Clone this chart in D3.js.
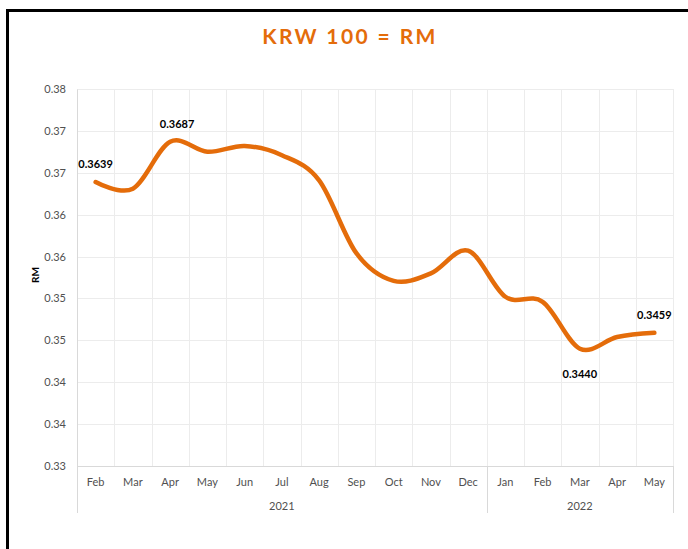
<!DOCTYPE html>
<html>
<head>
<meta charset="utf-8">
<script src="https://cdn.jsdelivr.net/npm/d3@7"></script>
<style>
  body { margin: 0; background: #fff; }
  svg { display: block; font-family: Lato, "Open Sans", sans-serif; }
</style>
</head>
<body>
<svg id="chart"></svg>
<script>
// months shown on the x axis, Feb 2021 .. May 2022
var months = ["Feb","Mar","Apr","May","Jun","Jul","Aug","Sep","Oct","Nov","Dec",
              "Jan","Feb","Mar","Apr","May"]
var years = ["2021","2022"]
var yearOf = [0,0,0,0,0,0,0,0,0,0,0,1,1,1,1,1]

// KRW 100 in RM
var rates = [0.3639,0.3631,0.3687,0.3675,0.3682,0.3671,0.3641,0.3554,
             0.3521,0.3530,0.3557,0.3502,0.3496,0.3440,0.3454,0.3459]

// the points that carry a value label
var labelled = [0, 2, 13, 15]

var yTicks = [0.330,0.335,0.340,0.345,0.350,0.355,0.360,0.365,0.370,0.375]
var yTickLabels = ["0.33","0.34","0.34","0.35","0.35","0.36","0.36","0.37","0.37","0.38"]

var screen = {width:688,height:549}
var margins = {top:89,right:15,left:77,bottom:83}
var orange = "#E46C0A"

// label placement (dx, dy from the point)
var labelPos = [{dx:0,dy:-14},{dx:7,dy:-14},{dx:0,dy:29},{dx:0,dy:-14}]

var width = screen.width - margins.left - margins.right
var height = screen.height - margins.top - margins.bottom

var svg = d3.select("#chart")
    .attr("width",screen.width)
    .attr("height",screen.height)

// outer frame (only top and left edge fit in the window)
svg.append("rect")
   .attr("x",7.5).attr("y",10.5)
   .attr("width",700).attr("height",600)
   .attr("fill","none")
   .attr("stroke","#000")
   .attr("stroke-width",3)

svg.append("text")
   .attr("x",350).attr("y",44)
   .attr("text-anchor","middle")
   .attr("fill",orange)
   .style("font-size","21px")
   .style("font-weight","bold")
   .style("letter-spacing","2.4px")
   .text("KRW 100 = RM")

var g = svg.append("g")
   .attr("transform","translate("+margins.left+","+margins.top+")")

var xScale = d3.scaleBand()
    .domain(d3.range(months.length))
    .range([0,width])
    .padding(0)
var yScale = d3.scaleLinear()
    .domain([0.330,0.375])
    .range([height,0])

// gridlines
g.append("g")
 .selectAll("line")
 .data(yTicks)
 .enter()
 .append("line")
 .attr("x1",0).attr("x2",width)
 .attr("y1",function(d){return Math.round(yScale(d))+0.5})
 .attr("y2",function(d){return Math.round(yScale(d))+0.5})
 .attr("stroke","#ececec")

g.append("g")
 .selectAll("line")
 .data(d3.range(months.length+1))
 .enter()
 .append("line")
 .attr("x1",function(i){return Math.round(i*xScale.bandwidth())+0.5})
 .attr("x2",function(i){return Math.round(i*xScale.bandwidth())+0.5})
 .attr("y1",0).attr("y2",height)
 .attr("stroke","#ececec")

// y axis
var yAxis = d3.axisLeft(yScale)
    .tickValues(yTicks)
    .tickSize(0)
    .tickPadding(11)
    .tickFormat(function(d,i){return yTickLabels[i]})
var ya = g.append("g").call(yAxis)
ya.select(".domain").attr("stroke","#d9d9d9")
ya.selectAll("text")
  .style("font-size","11px")
  .style("font-family","Lato, sans-serif")
  .attr("fill","#505050")

// x axis: months, then years
var xAxis = d3.axisBottom(xScale)
    .tickSize(0)
    .tickPadding(12)
    .tickFormat(function(i){return months[i]})
var xa = g.append("g")
  .attr("transform","translate(0,"+height+")")
  .call(xAxis)
xa.select(".domain").attr("stroke","#d9d9d9")
xa.selectAll("text")
  .style("font-size","11px")
  .style("font-family","Lato, sans-serif")
  .attr("fill","#505050")

var yearSpans = years.map(function(y,k){
    var idx = d3.range(months.length).filter(function(i){return yearOf[i]==k})
    return {name:y, x0:xScale(idx[0]), x1:xScale(idx[idx.length-1])+xScale.bandwidth()}
})

g.append("g")
 .selectAll("line")
 .data([0].concat(yearSpans.map(function(s){return s.x1})))
 .enter()
 .append("line")
 .attr("x1",function(x){return Math.round(x)+0.5})
 .attr("x2",function(x){return Math.round(x)+0.5})
 .attr("y1",height).attr("y2",height+47)
 .attr("stroke","#d9d9d9")

g.append("g")
 .selectAll("text")
 .data(yearSpans)
 .enter()
 .append("text")
 .attr("x",function(s){return (s.x0+s.x1)/2})
 .attr("y",height+44)
 .attr("text-anchor","middle")
 .attr("fill","#505050")
 .style("font-size","11px")
 .text(function(s){return s.name})

// axis title
svg.append("text")
   .attr("transform","translate(39,275) rotate(-90)")
   .attr("text-anchor","middle")
   .attr("fill","#000")
   .style("font-size","10px")
   .style("font-weight","bold")
   .text("RM")

// the rate line
var lineGenerator = d3.line()
    .x(function(d,i){return xScale(i)+xScale.bandwidth()/2})
    .y(function(d){return yScale(d)})
    .curve(d3.curveCatmullRom.alpha(0))

g.append("path")
 .datum(rates)
 .attr("d",lineGenerator)
 .attr("fill","none")
 .attr("stroke",orange)
 .attr("stroke-width",4.5)
 .attr("stroke-linecap","round")

g.append("g")
 .selectAll("text")
 .data(labelled)
 .enter()
 .append("text")
 .attr("x",function(i,k){return xScale(i)+xScale.bandwidth()/2+labelPos[k].dx})
 .attr("y",function(i,k){return yScale(rates[i])+labelPos[k].dy})
 .attr("text-anchor","middle")
 .attr("fill","#000")
 .style("font-size","11px")
 .style("font-weight","bold")
 .text(function(i){return rates[i].toFixed(4)})
</script>
</body>
</html>
